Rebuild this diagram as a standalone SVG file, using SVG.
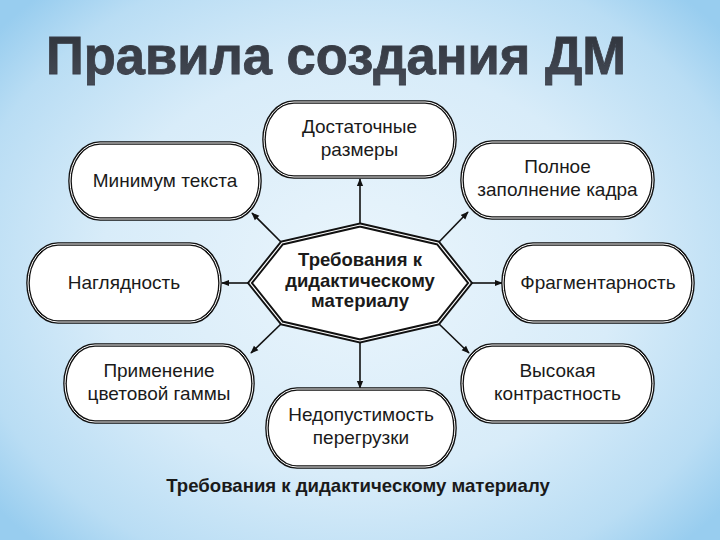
<svg xmlns="http://www.w3.org/2000/svg" width="720" height="540" viewBox="0 0 720 540">
<defs>
<radialGradient id="bg" cx="360" cy="270" r="470" gradientUnits="userSpaceOnUse" gradientTransform="translate(360 270) scale(1 0.8) translate(-360 -270)">
<stop offset="0" stop-color="#eaf5fc"/>
<stop offset="0.55" stop-color="#d8ecf9"/>
<stop offset="0.85" stop-color="#b9ddf4"/>
<stop offset="1" stop-color="#98cdef"/>
</radialGradient>
<linearGradient id="tg" x1="0" y1="0" x2="0" y2="1">
<stop offset="0" stop-color="#2e323a"/>
<stop offset="1" stop-color="#454b56"/>
</linearGradient>
<marker id="ar" viewBox="0 0 10 10" refX="9" refY="5" markerWidth="8" markerHeight="8" markerUnits="userSpaceOnUse" orient="auto">
<path d="M0,1 L10,5 L0,9 Z" fill="#111"/>
</marker>
<style>
.box{fill:#fff;stroke:#111;stroke-width:3.6}
.gap{fill:none;stroke:#fff;stroke-width:1}
.t{font-family:"Liberation Sans",Arial,sans-serif;font-size:19px;fill:#1a1a1a;text-anchor:middle}
.tb{font-family:"Liberation Sans",Arial,sans-serif;font-size:18.5px;font-weight:bold;fill:#1a1a1a;text-anchor:middle}
.con{stroke:#111;stroke-width:1.6;fill:none;marker-end:url(#ar)}
</style>
</defs>
<rect x="0" y="0" width="720" height="540" fill="url(#bg)"/>
<text x="46" y="74" font-family="'Liberation Sans',Arial,sans-serif" font-size="53" font-weight="bold" fill="url(#tg)" stroke="#3a3f49" stroke-width="0.8" textLength="580" lengthAdjust="spacingAndGlyphs">Правила создания ДМ</text>

<g id="connectors">
<line class="con" x1="360" y1="225" x2="360" y2="179"/>
<line class="con" x1="282" y1="243" x2="252" y2="213"/>
<line class="con" x1="438" y1="243" x2="468" y2="212"/>
<line class="con" x1="250" y1="283" x2="222" y2="283"/>
<line class="con" x1="470" y1="283" x2="502" y2="283"/>
<line class="con" x1="282" y1="323" x2="251" y2="353"/>
<line class="con" x1="438" y1="323" x2="469" y2="353"/>
<line class="con" x1="360" y1="341" x2="360" y2="388"/>
</g>

<g id="center">
<polygon points="360,225 438,243 470,283 438,323 360,341 282,323 250,283 282,243" fill="#fff" stroke="#111" stroke-width="5" stroke-linejoin="miter"/>
<polygon points="360,225 438,243 470,283 438,323 360,341 282,323 250,283 282,243" fill="none" stroke="#fff" stroke-width="1.2"/>
<text class="tb" x="360" y="266">Требования к</text>
<text class="tb" x="360" y="287">дидактическому</text>
<text class="tb" x="360" y="307">материалу</text>
</g>

<g id="n-top">
<rect class="box" x="264" y="102" width="191" height="75" rx="30" ry="37.5"/>
<rect class="gap" x="264" y="102" width="191" height="75" rx="30" ry="37.5"/>
<text class="t" x="359.5" y="133">Достаточные</text>
<text class="t" x="359.5" y="156">размеры</text>
</g>

<g id="n-min">
<rect class="box" x="70" y="143" width="190" height="76" rx="30" ry="38"/>
<rect class="gap" x="70" y="143" width="190" height="76" rx="30" ry="38"/>
<text class="t" x="165" y="187">Минимум текста</text>
</g>

<g id="n-full">
<rect class="box" x="462" y="142" width="191" height="76" rx="30" ry="38"/>
<rect class="gap" x="462" y="142" width="191" height="76" rx="30" ry="38"/>
<text class="t" x="557.5" y="173">Полное</text>
<text class="t" x="557.5" y="196">заполнение кадра</text>
</g>

<g id="n-vis">
<rect class="box" x="28" y="244" width="192" height="78" rx="30" ry="39"/>
<rect class="gap" x="28" y="244" width="192" height="78" rx="30" ry="39"/>
<text class="t" x="124" y="289">Наглядность</text>
</g>

<g id="n-frag">
<rect class="box" x="503" y="244" width="190" height="78" rx="30" ry="39"/>
<rect class="gap" x="503" y="244" width="190" height="78" rx="30" ry="39"/>
<text class="t" x="598" y="289">Фрагментарность</text>
</g>

<g id="n-color">
<rect class="box" x="65" y="345" width="188" height="77" rx="30" ry="38.5"/>
<rect class="gap" x="65" y="345" width="188" height="77" rx="30" ry="38.5"/>
<text class="t" x="159" y="377">Применение</text>
<text class="t" x="159" y="400">цветовой гаммы</text>
</g>

<g id="n-contrast">
<rect class="box" x="462" y="345" width="191" height="77" rx="30" ry="38.5"/>
<rect class="gap" x="462" y="345" width="191" height="77" rx="30" ry="38.5"/>
<text class="t" x="557.5" y="377">Высокая</text>
<text class="t" x="557.5" y="400">контрастность</text>
</g>

<g id="n-over">
<rect class="box" x="267" y="389" width="188" height="78" rx="30" ry="39"/>
<rect class="gap" x="267" y="389" width="188" height="78" rx="30" ry="39"/>
<text class="t" x="361" y="421">Недопустимость</text>
<text class="t" x="361" y="444">перегрузки</text>
</g>

<text x="358" y="492" font-family="'Liberation Sans',Arial,sans-serif" font-size="18.6" font-weight="bold" fill="#1a1a1a" text-anchor="middle">Требования к дидактическому материалу</text>
</svg>
